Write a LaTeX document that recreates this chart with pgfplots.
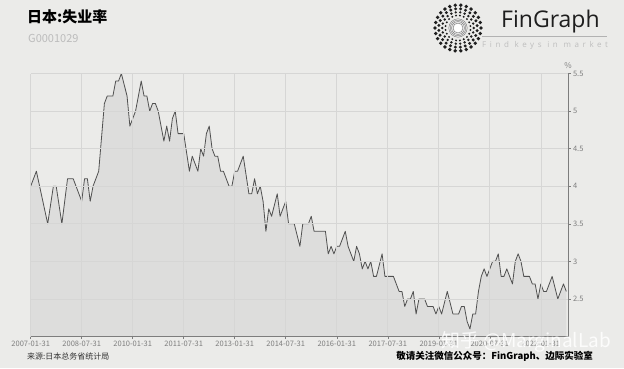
\documentclass[border=0pt]{standalone}
\usepackage{fontspec}
\setmainfont{Noto Sans CJK SC}
\newfontfamily\logofont{Open Sans}
\usepackage{pgfplots}
\usepackage{pgfplotstable}
\pgfplotsset{compat=1.18}

\definecolor{bg}{RGB}{235,235,233}
\definecolor{areafill}{RGB}{221,221,220}
\definecolor{gridc}{RGB}{214,214,213}
\definecolor{linec}{RGB}{80,80,80}
\definecolor{tickc}{RGB}{125,125,125}

\pgfplotstableread{
m v
0 4.0
2 4.2
6 3.5
8 4.0
9 4.0
11 3.5
13 4.1
15 4.1
18 3.8
19 4.1
20 4.1
21 3.8
22 4.0
24 4.2
26 5.1
27 5.2
29 5.2
30 5.4
31 5.4
32 5.5
34 5.2
35 4.8
36 4.9
37 5.0
38 5.2
39 5.4
40 5.2
41 5.2
42 5.0
43 5.1
44 5.1
45 5.0
47 4.6
48 4.8
49 4.6
50 4.9
51 5.0
52 4.7
54 4.7
56 4.2
57 4.4
59 4.2
60 4.5
61 4.4
62 4.7
63 4.8
64 4.5
65 4.4
66 4.4
67 4.2
68 4.2
70 4.0
71 4.0
72 4.2
73 4.2
74 4.3
75 4.4
77 3.9
78 3.9
79 4.1
80 3.9
81 4.0
82 3.8
83 3.4
84 3.7
85 3.6
87 3.9
88 3.6
90 3.8
91 3.5
93 3.5
95 3.2
96 3.5
98 3.5
99 3.6
100 3.4
104 3.4
105 3.1
106 3.2
107 3.1
108 3.2
109 3.2
111 3.4
112 3.2
114 3.0
115 3.2
116 3.1
117 2.9
118 3.0
119 2.9
120 3.0
121 2.8
122 2.8
124 3.1
125 2.8
126 2.8
128 2.8
130 2.6
131 2.6
132 2.4
133 2.5
134 2.5
135 2.6
136 2.3
137 2.5
139 2.5
140 2.4
142 2.4
143 2.3
144 2.4
145 2.3
147 2.6
149 2.3
151 2.3
152 2.4
153 2.4
154 2.2
155 2.1
156 2.3
157 2.3
158 2.6
159 2.8
160 2.9
161 2.8
162 2.9
163 3.0
164 3.0
165 3.1
166 2.8
167 2.8
168 2.9
170 2.7
171 3.0
172 3.1
173 3.0
174 2.8
176 2.8
177 2.7
178 2.7
179 2.5
180 2.7
181 2.6
182 2.6
184 2.8
186 2.5
188 2.7
189 2.6
}\unemp

\begin{document}
\begin{tikzpicture}[x=1pt,y=1pt]
\fill[bg] (0,0) rectangle (624,-368);
\useasboundingbox (0,0) rectangle (624,-368);

\begin{axis}[
  at={(30.7pt,-336.5pt)}, anchor=south west,
  scale only axis, width=537.3pt, height=263pt,
  xmin=0, xmax=189.6, ymin=2, ymax=5.5,
  axis x line*=bottom, axis y line*=right,
  axis line style={draw=tickc, line width=0.6pt, -},
  axis on top,
  grid=major,
  major grid style={draw=gridc, line width=0.6pt},
  tick style={draw=tickc, line width=0.5pt},
  tick align=outside, major tick length=2.5pt,
  xtick={0,18,36,54,72,90,108,126,144,162,180},
  xticklabels={2007-01-31,2008-07-31,2010-01-31,2011-07-31,2013-01-31,2014-07-31,2016-01-31,2017-07-31,2019-01-31,2020-07-31,2022-01-31},
  ytick={2.5,3,3.5,4,4.5,5,5.5},
  yticklabels={2.5,3,3.5,4,4.5,5,5.5},
  ticklabel style={font=\fontsize{7.5}{8}\selectfont, text=tickc},
  /pgf/number format/assume math mode=true,
  xticklabel style={yshift=1pt},
  yticklabel style={xshift=-1pt},
  clip=false,
]
\addplot[fill=areafill, draw=none] table[x=m,y=v]{\unemp} \closedcycle;
\addplot[draw=linec, line width=0.8pt, line join=round] table[x=m,y=v]{\unemp};
\node[font=\fontsize{8}{8}\selectfont, text=tickc, anchor=south] at (rel axis cs:1,1) [yshift=1pt] {\%};
\end{axis}

% title
\node[anchor=west, inner sep=0] at (27,-17) {\fontsize{15}{15}\selectfont\bfseries 日本:失业率};
\node[anchor=west, inner sep=0, text={rgb,255:red,188;green,188;blue,188}] at (28,-38) {\fontsize{11}{11}\selectfont G0001029};

% logo
\begin{scope}[shift={(458,-28)}]
  \foreach \r/\n/\s/\o in {23/26/1.9/0, 19.3/24/1.65/7, 15.8/22/1.35/0, 12.6/20/1.05/9} {
    \foreach \k in {1,...,\n} {
      \pgfmathsetmacro{\ang}{\o+\k*360/\n}
      \fill[black!88] (\ang:\r) circle (\s);
    }
  }
  \fill[white!92!black] (0,0) circle (9.5);
  \foreach \rr in {9.2,7.8,6.4,5.0} { \draw[black!60, line width=0.35pt] (0,0) circle (\rr); }
  \fill[white] (0,0) circle (4.2);
\end{scope}
\node[anchor=west, inner sep=0, text={rgb,255:red,30;green,30;blue,30}] at (501,-22) {\logofont\fontsize{23}{23}\selectfont FinGraph};
\draw[black!30, line width=0.5pt] (482,-36.5) -- (607,-36.5);
\node[anchor=west, inner sep=0, text={rgb,255:red,190;green,190;blue,190}] at (482,-45.5) {\logofont\addfontfeature{LetterSpace=45}\fontsize{8}{8}\selectfont Find keys in market};

% footer
\node[anchor=west, inner sep=0, text={rgb,255:red,50;green,50;blue,50}] at (27,-356) {\fontsize{8}{8}\selectfont 来源:日本总务省统计局};
\node[anchor=east, inner sep=0, text=black] at (593,-356) {\fontsize{9.5}{9.5}\selectfont\bfseries 敬请关注微信公众号：FinGraph、边际实验室};

% watermark
\node[inner sep=0, text=white, opacity=0.85] at (526,-342) {\fontsize{19}{19}\selectfont 知乎 @MarginalLab};
\end{tikzpicture}
\end{document}
